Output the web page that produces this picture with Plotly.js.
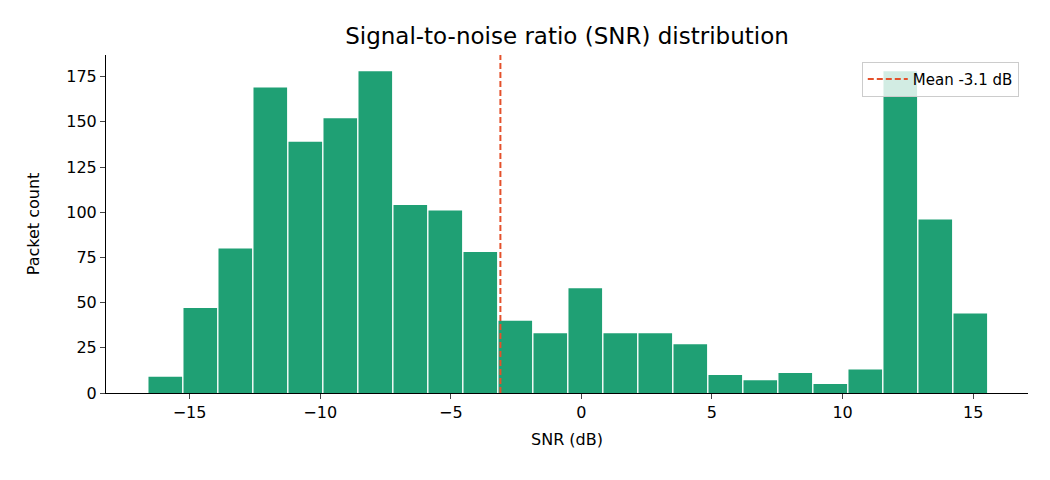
<!DOCTYPE html>
<html><head><meta charset="utf-8">
<script src="https://cdn.plot.ly/plotly-3.0.1.min.js"></script>
<style>body{margin:0}#chart{width:1050px;height:480px}</style>
</head><body><div id="chart"></div>
<script>
// histogram bins
let binStart = -16.6;
let binWidth = 1.34;
let counts = [9, 47, 80, 169, 139, 152, 178, 104, 101, 78, 40, 33, 58, 33, 33, 27, 10, 7, 11, 5, 13, 178, 96, 44];
let meanSnr = -3.1;

let centers = counts.map((c, i) => binStart + binWidth * (i + 0.5));

let bars = {
    x: centers,
    y: counts,
    type: 'bar',
    width: binWidth * 0.96,
    marker: {color: '#1fa074'},
    showlegend: false,
    hoverinfo: 'x+y'
};

let meanLine = {
    x: [meanSnr, meanSnr],
    y: [0, 1],
    yaxis: 'y2',
    mode: 'lines',
    type: 'scatter',
    name: 'Mean ' + meanSnr.toFixed(1) + ' dB',
    line: {color: '#e4512b', dash: '6px,3px', width: 2}
};

let layout = {
    width: 1050, height: 480,
    margin: {l: 106, r: 22, t: 55, b: 87},
    font: {family: 'DejaVu Sans', size: 16, color: '#000'},
    title: {text: 'Signal-to-noise ratio (SNR) distribution', font: {size: 23},
            x: 0.54, y: 0.925, yanchor: 'middle'},
    plot_bgcolor: '#fff',
    xaxis: {
        title: {text: 'SNR (dB)', font: {size: 16}, standoff: 12},
        range: [-18.2, 17.1], tickvals: [-15, -10, -5, 0, 5, 10, 15],
        ticktext: ['\u221215', '\u221210', '\u22125', '0', '5', '10', '15'],
        showline: true, linecolor: '#000', ticks: 'outside', ticklen: 5,
        showgrid: false, zeroline: false
    },
    yaxis: {
        title: {text: 'Packet count', font: {size: 16}, standoff: 22},
        range: [0, 187], dtick: 25,
        showline: true, linecolor: '#000', ticks: 'outside', ticklen: 5,
        showgrid: false, zeroline: false
    },
    yaxis2: {overlaying: 'y', range: [0, 1], visible: false},
    legend: {
        x: 0.99, y: 0.98, xanchor: 'right', yanchor: 'top',
        bgcolor: 'rgba(255,255,255,0.8)', bordercolor: '#ccc', borderwidth: 1,
        font: {size: 15}, itemwidth: 40
    },
    showlegend: true
};

Plotly.newPlot('chart', [bars, meanLine], layout, {displayModeBar: false});
</script>
</body></html>
